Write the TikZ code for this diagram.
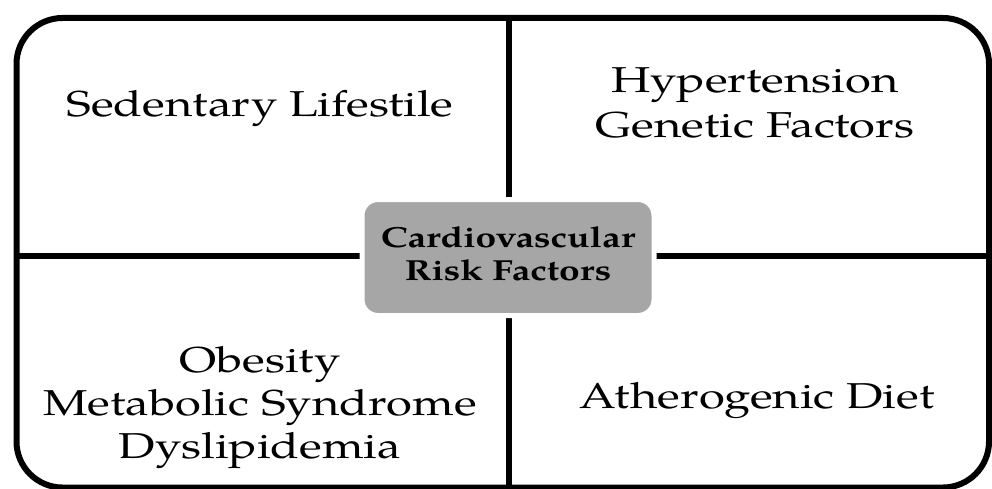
\documentclass[tikz,border=0pt]{standalone}
\usepackage{fontspec}
\setmainfont{TeX Gyre Pagella}
\usetikzlibrary{shadows}
\definecolor{boxgray}{HTML}{A6A6A6}
\newcommand{\widetext}[1]{\scalebox{1.31}[1]{#1}}
\tikzset{
  frame/.style={line width=6pt, rounded corners=46pt},
  divider/.style={line width=6pt},
  itemtext/.style={anchor=base, inner sep=0pt, font=\fontsize{36}{43}\selectfont},
  centerbox/.style={draw=white, line width=5pt, fill=boxgray, rounded corners=16pt,
    drop shadow={shadow xshift=1pt, shadow yshift=-2pt, opacity=0.3}},
  centertext/.style={anchor=base, inner sep=0pt, font=\fontsize{29}{33}\selectfont\bfseries}
}
\begin{document}
\begin{tikzpicture}[x=1pt,y=-1pt]
\useasboundingbox (0,0) rectangle (992,489);
\draw[frame] (16.5,18) rectangle (989,487.5);
\coordinate (vtop) at (508.5,18);
\coordinate (vbot) at (508.5,489);
\coordinate (hleft) at (16.5,256);
\coordinate (hright) at (992,256);
\draw[divider] (vtop) -- (vbot);
\draw[divider] (hleft) -- (hright);
\node[centerbox, minimum width=292pt, minimum height=116pt] (cbox) at (508,257.5) {};
\node[centertext] (c1) at (508,247) {\scalebox{1.28}[1]{Cardiovascular}};
\node[centertext] (c2) at (508,280) {\scalebox{1.28}[1]{Risk Factors}};
\node[itemtext] (sed) at (260,117) {\widetext{Sedentary Lifestile}};
\node[itemtext] (hyp) at (755,93) {\widetext{Hypertension}};
\node[itemtext] (gen) at (755,138) {\widetext{Genetic Factors}};
\node[itemtext] (obe) at (260,372) {\widetext{Obesity}};
\node[itemtext] (met) at (260,415) {\widetext{Metabolic Syndrome}};
\node[itemtext] (dys) at (260,458) {\widetext{Dyslipidemia}};
\node[itemtext] (ath) at (757,408) {\widetext{Atherogenic Diet}};
\end{tikzpicture}
\end{document}
